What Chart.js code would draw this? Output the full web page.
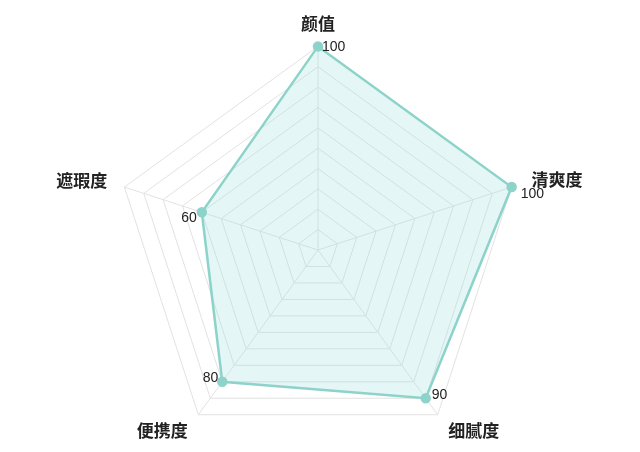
<!DOCTYPE html>
<html>
<head>
<meta charset="utf-8">
<script src="https://cdn.jsdelivr.net/npm/chart.js@4"></script>
<style>
  html, body { margin: 0; padding: 0; background: #fff; overflow: hidden; }
  #wrap { width: 640px; height: 452px; overflow: hidden; position: relative; }
  /* the canvas is a bit taller than the page so the radar fills it like the reference */
  #inner { position: absolute; left: 0; top: -3px; width: 640px; height: 475px; }
</style>
</head>
<body>
<div id="wrap"><div id="inner"><canvas id="radar"></canvas></div></div>
<script>
const categories = ["颜值", "清爽度", "细腻度", "便携度", "遮瑕度"];
const scores = [100, 100, 90, 80, 60];
const tickStep = 10;
const scaleMax = 100;

// value labels next to each point
const valueLabels = {
  id: "valueLabels",
  afterDatasetsDraw(chart) {
    const ctx = chart.ctx;
    const pts = chart.getDatasetMeta(0).data;
    // [dx, dy, align] per point, as in the reference
    const offs = [[4, 1, "left"], [9, 7, "left"], [6, -3, "left"], [-4, -4, "right"], [-5, 6, "right"]];
    ctx.save();
    ctx.font = "14px 'Liberation Sans', sans-serif";
    ctx.fillStyle = "#222";
    ctx.textBaseline = "middle";
    pts.forEach((p, i) => {
      ctx.textAlign = offs[i][2];
      ctx.fillText(String(scores[i]), p.x + offs[i][0], p.y + offs[i][1]);
    });
    ctx.restore();
  },
};

new Chart(document.getElementById("radar"), {
  type: "radar",
  data: {
    labels: categories,
    datasets: [
      {
        data: scores,
        borderColor: "#8dd3ca",
        backgroundColor: "rgba(160, 222, 228, 0.28)",
        borderWidth: 2.5,
        pointRadius: 4,
        pointBackgroundColor: "#8dd3ca",
        pointBorderColor: "#8dd3ca",
      },
    ],
  },
  options: {
    responsive: true,
    maintainAspectRatio: false,
    animation: false,
    layout: { padding: { top: 0, bottom: 0, left: 0, right: 4 } },
    scales: {
      r: {
        min: 0,
        max: scaleMax,
        ticks: { stepSize: tickStep, display: false },
        grid: { color: "#e2e2e2", lineWidth: 1 },
        angleLines: { color: "#e2e2e2" },
        pointLabels: {
          color: "#222",
          // side/bottom labels sit a little further out and centred on their spoke
          padding: (c) => [13, 21, 18, 18, 18][c.index],
          font: (c) => ({
            size: 17,
            weight: "bold",
            family: "'Noto Sans CJK SC', sans-serif",
            lineHeight: c.index === 0 ? 1.2 : 0.1,
          }),
        },
      },
    },
    plugins: {
      legend: { display: false },
      tooltip: { enabled: false },
    },
  },
  plugins: [valueLabels],
});
</script>
</body>
</html>
